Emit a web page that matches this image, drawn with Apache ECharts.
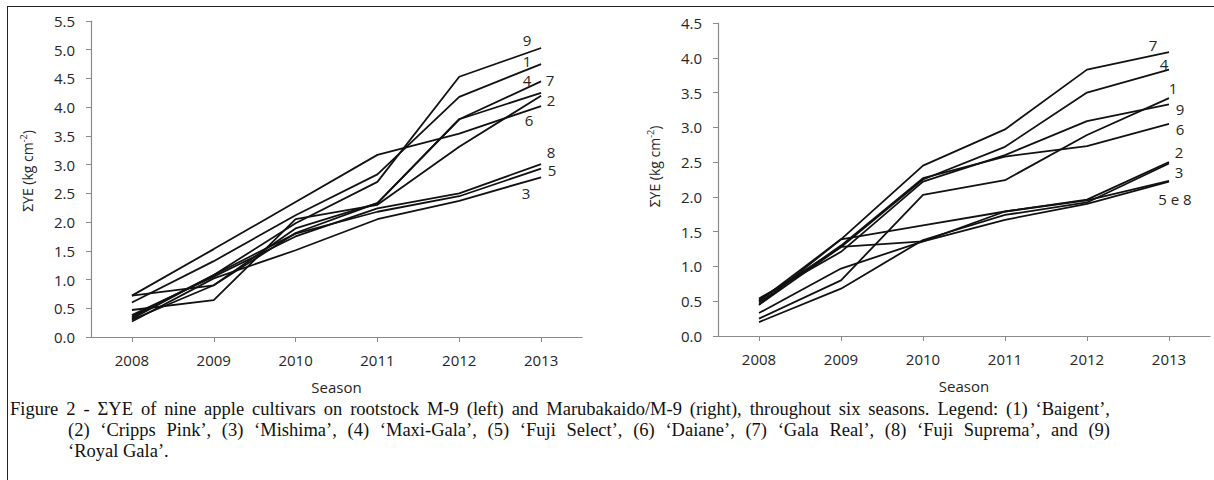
<!DOCTYPE html>
<html>
<head>
<meta charset="utf-8">
<script src="https://cdn.jsdelivr.net/npm/echarts@6/dist/echarts.min.js"></script>
<style>
  html, body { margin: 0; padding: 0; background: #fff; }
  #wrap { position: relative; width: 1214px; height: 480px; overflow: hidden; }
  #chart { position: absolute; left: 0; top: 0; width: 1214px; height: 480px; }
  #frame { position: absolute; left: 7px; top: 6px; width: 1220px; height: 480px; border-left: 1.5px solid #222; border-top: 1.5px solid #222; box-sizing: border-box; }
  #caption { position: absolute; left: 10px; top: 399px; width: 1101px; font-family: "Liberation Serif", "Times New Roman", serif; font-size: 18.5px; line-height: 21px; color: #111; }
  #caption .ind { margin-left: 58px; }
</style>
</head>
<body>
<div id="wrap">
  <div id="frame"></div>
  <div id="chart"></div>
  <div id="caption">
    <div class="cl" id="cl1">Figure 2 - ΣYE of nine apple cultivars on rootstock M-9 (left) and Marubakaido/M-9 (right), throughout six seasons. Legend: (1) ‘Baigent’,</div>
    <div class="cl ind" id="cl2">(2) ‘Cripps Pink’, (3) ‘Mishima’, (4) ‘Maxi-Gala’, (5) ‘Fuji Select’, (6) ‘Daiane’, (7) ‘Gala Real’, (8) ‘Fuji Suprema’, and (9)</div>
    <div class="ind" id="cl3">‘Royal Gala’.</div>
  </div>
</div>
<script>
// ---- data ----
var seasons = ['2008', '2009', '2010', '2011', '2012', '2013'];
var cultivarIds = ['1', '2', '3', '4', '5', '6', '7', '8', '9'];
var yTicksLeft = [0, 0.5, 1.0, 1.5, 2.0, 2.5, 3.0, 3.5, 4.0, 4.5, 5.0, 5.5];
var yTicksRight = [0, 0.5, 1.0, 1.5, 2.0, 2.5, 3.0, 3.5, 4.0, 4.5];

// Left panel: rootstock M-9
var m9_c1 = [0.60, 1.32, 2.12, 2.83, 4.18, 4.75];
var m9_c2 = [0.47, 0.64, 2.05, 2.30, 3.31, 4.20];
var m9_c3 = [0.27, 1.02, 1.51, 2.05, 2.37, 2.78];
var m9_c4 = [0.30, 0.90, 1.81, 2.33, 3.79, 4.25];
var m9_c5 = [0.32, 1.08, 1.80, 2.18, 2.45, 2.93];
var m9_c6 = [0.72, 1.53, 2.35, 3.17, 3.54, 4.02];
var m9_c7 = [0.72, 0.90, 1.89, 2.33, 3.79, 4.45];
var m9_c8 = [0.38, 1.05, 1.75, 2.24, 2.50, 3.01];
var m9_c9 = [0.35, 1.08, 1.98, 2.70, 4.53, 5.03];

// Right panel: Marubakaido/M-9
var mb_c1 = [0.25, 0.80, 2.03, 2.24, 2.89, 3.42];
var mb_c2 = [0.33, 0.97, 1.36, 1.79, 1.96, 2.50];
var mb_c3 = [0.20, 0.68, 1.38, 1.74, 1.92, 2.48];
var mb_c4 = [0.45, 1.28, 2.25, 2.72, 3.50, 3.83];
var mb_c5 = [0.52, 1.28, 1.36, 1.67, 1.90, 2.22];
var mb_c6 = [0.48, 1.30, 2.27, 2.58, 2.73, 3.05];
var mb_c7 = [0.50, 1.39, 2.45, 2.97, 3.83, 4.08];
var mb_c8 = [0.45, 1.39, 1.59, 1.79, 1.95, 2.23];
var mb_c9 = [0.54, 1.21, 2.22, 2.60, 3.09, 3.33];

var endLabelsLeft  = ['1', '2', '3', '4', '5', '6', '7', '8', '9'];
var endLabelsRight = ['1', '2', '3', '4', '5 e 8', '6', '7', '', '9'];

// ---- presentation ----
var leftSeriesData = [m9_c1, m9_c2, m9_c3, m9_c4, m9_c5, m9_c6, m9_c7, m9_c8, m9_c9];
var rightSeriesData = [mb_c1, mb_c2, mb_c3, mb_c4, mb_c5, mb_c6, mb_c7, mb_c8, mb_c9];
var leftOffsets = [[-14, -3], [10, 4], [-15, 16], [-14, -13], [11, 1], [-12, 14], [9, -1], [10, -12], [-14, -8]];
var rightOffsets = [[4, -10], [10, -10], [10, 8], [-5, -6], [6, 17], [11, 5], [-16, -7], [0, 0], [11, 5]];

var FONT = '"Open Sans", "Noto Sans", sans-serif';
var axisGray = '#8a8a8a';
var textCol = '#262626';

function makeX(gridIndex) {
  return {
    type: 'category', gridIndex: gridIndex, data: seasons, boundaryGap: true,
    name: 'Season', nameLocation: 'middle', nameGap: 42,
    nameTextStyle: { fontFamily: FONT, fontSize: 15, color: textCol },
    axisLine: { show: true, lineStyle: { color: axisGray, width: 1.2 } },
    axisTick: { show: true, alignWithLabel: true, length: 5, lineStyle: { color: axisGray } },
    axisLabel: { fontFamily: FONT, fontSize: 15, color: textCol, margin: 15 },
    splitLine: { show: false }
  };
}
function makeY(gridIndex, ticks, pad) {
  return {
    type: 'value', gridIndex: gridIndex, min: ticks[0], max: ticks[ticks.length - 1], interval: 0.5,
    name: '{n|ΣYE (kg cm}{s|-2}{n|)}', nameLocation: 'middle', nameGap: 56, nameRotate: 90,
    nameTextStyle: {
      padding: [0, 0, 0, pad],
      rich: {
        n: { fontFamily: FONT, fontSize: 14, color: textCol },
        s: { fontFamily: FONT, fontSize: 9, color: textCol, padding: [0, 0, 7, 0] }
      }
    },
    axisLine: { show: true, lineStyle: { color: axisGray, width: 1.2 } },
    axisTick: { show: true, length: 5, lineStyle: { color: axisGray } },
    axisLabel: { fontFamily: FONT, fontSize: 15, color: textCol, margin: 16,
      formatter: function (v) { return v.toFixed(1); } },
    splitLine: { show: false }
  };
}
function makeSeries(dataList, labels, offsets, idx) {
  return dataList.map(function (d, i) {
    return {
      type: 'line', name: (idx === 0 ? 'M-9 ' : 'Marubakaido ') + cultivarIds[i],
      xAxisIndex: idx, yAxisIndex: idx, data: d,
      symbol: 'none', silent: true,
      lineStyle: { color: '#111', width: 1.8 },
      endLabel: {
        show: labels[i] !== '', formatter: labels[i], distance: 0,
        offset: offsets[i], align: 'center', verticalAlign: 'middle',
        fontFamily: FONT, fontSize: 15, lineHeight: 13, color: textCol
      }
    };
  });
}

var chart = echarts.init(document.getElementById('chart'), null, { renderer: 'svg' });
chart.setOption({
  animation: false,
  backgroundColor: 'transparent',
  grid: [
    { left: 91, top: 21, width: 491, height: 316 },
    { left: 718, top: 23, width: 492, height: 313 }
  ],
  xAxis: [makeX(0), makeX(1)],
  yAxis: [makeY(0, yTicksLeft, 16), makeY(1, yTicksRight, 26)],
  series: makeSeries(leftSeriesData, endLabelsLeft, leftOffsets, 0)
    .concat(makeSeries(rightSeriesData, endLabelsRight, rightOffsets, 1))
});

// justify caption lines 1 and 2 to the same right edge
(function () {
  var target = 1100;
  ['cl1', 'cl2'].forEach(function (id) {
    var el = document.getElementById(id);
    el.style.whiteSpace = 'nowrap';
    el.style.display = 'inline-block';
    var w = el.getBoundingClientRect().width;
    var avail = target - (id === 'cl2' ? 58 : 0);
    var spaces = (el.textContent.match(/ /g) || []).length;
    if (spaces > 0) el.style.wordSpacing = ((avail - w) / spaces) + 'px';
    el.style.display = 'block';
  });
})();
</script>
</body>
</html>
